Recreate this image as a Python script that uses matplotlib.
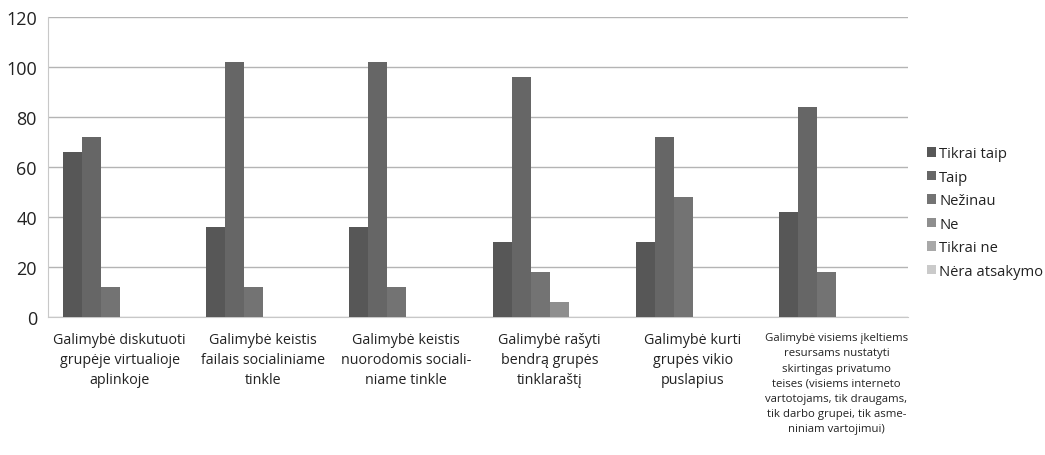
import matplotlib
matplotlib.use("Agg")
import matplotlib.pyplot as plt
import numpy as np

plt.rcParams['font.family'] = ['Open Sans', 'DejaVu Sans']

categories = [
    "Galimybė diskutuoti\ngrupėje virtualioje\naplinkoje",
    "Galimybė keistis\nfailais socialiniame\ntinkle",
    "Galimybė keistis\nnuorodomis sociali-\nniame tinkle",
    "Galimybė rašyti\nbendrą grupės\ntinklaraštį",
    "Galimybė kurti\ngrupės vikio\npuslapius",
    "Galimybė visiems įkeltiems\nresursams nustatyti\nskirtingas privatumo\nteises (visiems interneto\nvartotojams, tik draugams,\ntik darbo grupei, tik asme-\nniniam vartojimui)",
]
series_names = ["Tikrai taip", "Taip", "Nežinau", "Ne", "Tikrai ne", "Nėra atsakymo"]
tikrai_taip = [66, 36, 36, 30, 30, 42]
taip = [72, 102, 102, 96, 72, 84]
nezinau = [12, 12, 12, 18, 48, 18]
ne = [0, 0, 0, 6, 0, 0]
tikrai_ne = [0, 0, 0, 0, 0, 0]
nera_atsakymo = [0, 0, 0, 0, 0, 0]
y_ticks = [0, 20, 40, 60, 80, 100, 120]

series = [tikrai_taip, taip, nezinau, ne, tikrai_ne, nera_atsakymo]
colors = ["#575757", "#666666", "#737373", "#8e8e8e", "#a8a8a8", "#cacaca"]

fig = plt.figure(figsize=(10.45, 4.56), dpi=100)
ax = fig.add_axes([48/1045, 1-318/456, 860/1045, 300/456])

x = np.arange(len(categories))
n = len(series)
w = 0.1326
for i, (vals, name, c) in enumerate(zip(series, series_names, colors)):
    ax.bar(x + (i - (n-1)/2) * w, vals, width=w, color=c, label=name, zorder=3)

ax.set_xlim(-0.5, len(categories) - 0.5)
ax.set_ylim(0, 120)
ax.set_yticks(y_ticks)
ax.yaxis.grid(True, color="#b4b4b4", linewidth=1.0, zorder=0)
ax.tick_params(axis='y', length=0, pad=8, labelsize=13, labelcolor="#222222")
ax.tick_params(axis='x', length=0, pad=11)
ax.set_xticks(x)
ax.set_xticklabels(categories, fontsize=10.3, linespacing=1.42, color="#222222")
last = ax.get_xticklabels()[-1]
last.set_fontsize(8.2)
last.set_linespacing(1.52)
for s in ["top", "right"]:
    ax.spines[s].set_visible(False)
ax.spines["left"].set_color("#c8c8c8")
ax.spines["bottom"].set_color("#c8c8c8")

fig.legend(loc="center left", bbox_to_anchor=(0.874, 0.532), frameon=False,
           fontsize=10.6, handlelength=0.65, handleheight=0.65, handletextpad=0.2,
           labelspacing=0.58, labelcolor="#222222")

fig.savefig("out.png", dpi=100)
